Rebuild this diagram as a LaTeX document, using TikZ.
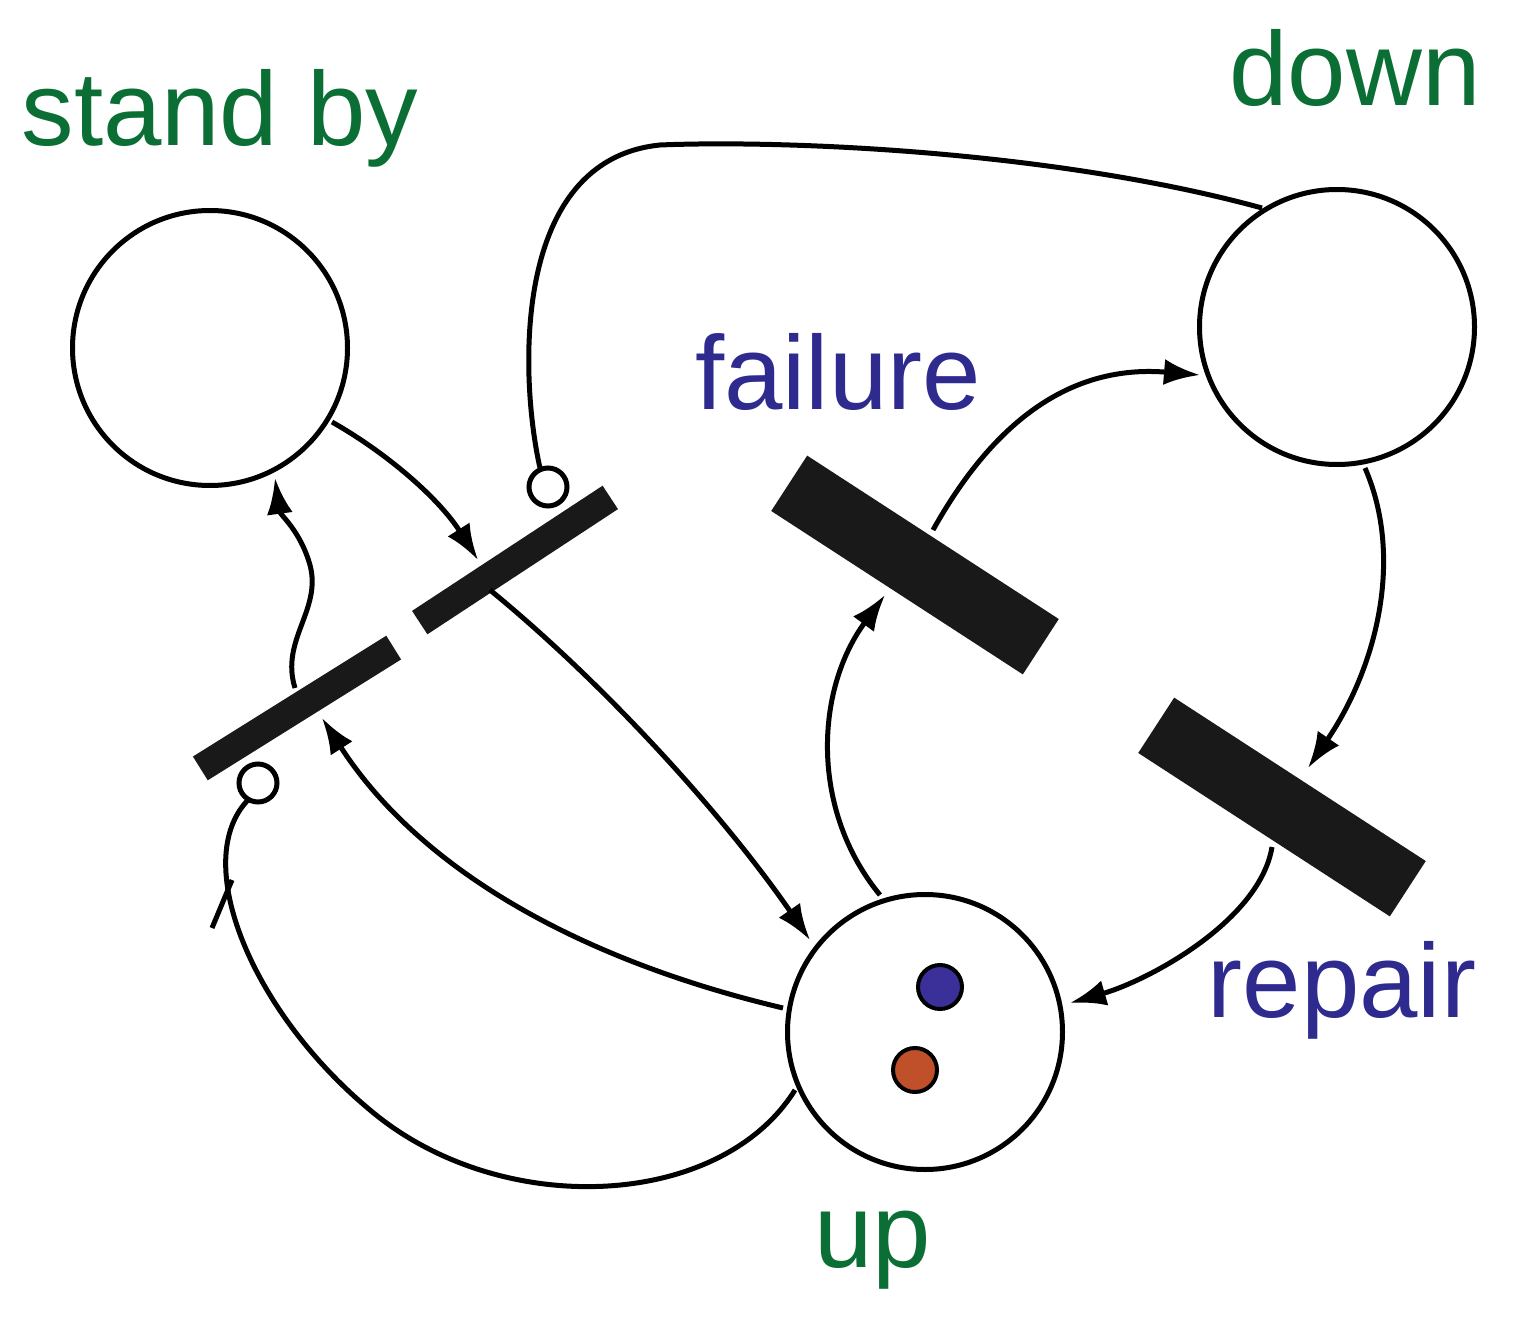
\documentclass[tikz,border=0pt]{standalone}
\usepackage{fontspec}
\setmainfont{Liberation Sans}
\usetikzlibrary{arrows.meta}
\definecolor{grn}{HTML}{0A6E35}
\definecolor{blu}{HTML}{2E2A8E}
\definecolor{tokb}{HTML}{3B2F9A}
\definecolor{toko}{HTML}{C0502A}
\begin{document}
\begin{tikzpicture}[x=1pt,y=-1pt,
  place/.style={circle,draw,line width=5pt,minimum size=275pt,inner sep=0pt},
  bar/.style={fill=black!90,draw=none,inner sep=0pt},
  inh/.style={circle,draw,line width=5pt,fill=white,minimum size=38pt,inner sep=0pt},
  arc/.style={line width=5pt,-{Latex[length=36pt,width=26pt]}},
  plain/.style={line width=5pt},
  lab/.style={font=\fontsize{105}{105}\selectfont,inner sep=0pt}]
\useasboundingbox (0,0) rectangle (1513,1332);
\node[place] (sb) at (210,348) {};
\node[place] (down) at (1337,327) {};
\node[place] (up) at (925,1032) {};
\node[circle,fill=tokb,draw,line width=4pt,minimum size=44pt,inner sep=0pt] (tb) at (940,987) {};
\node[circle,fill=toko,draw,line width=4pt,minimum size=44pt,inner sep=0pt] (to) at (915,1070) {};
\node[bar,minimum width=228pt,minimum height=28pt,rotate=33.3] (t1) at (515,560) {};
\node[bar,minimum width=228pt,minimum height=28pt,rotate=32] (t2) at (297,708) {};
\node[bar,minimum width=300pt,minimum height=66pt,rotate=-33] (fail) at (915,565) {};
\node[bar,minimum width=300pt,minimum height=66pt,rotate=-33] (rep) at (1282,807) {};
% arcs
\draw[arc] (332,422) .. controls (390,455) and (440,500) .. (478,560);
\draw[arc] (490,590) .. controls (600,680) and (720,810) .. (810,940);
\draw[plain] (1262,208) .. controls (1050,150) and (780,140) .. (660,145) .. controls (510,160) and (520,380) .. (540,468);
\draw[arc] (783,1008) .. controls (580,960) and (420,870) .. (322,718);
\draw[arc] (295,688) .. controls (280,640) and (322,610) .. (310,565) .. controls (300,530) and (280,515) .. (275,478);
\draw[plain] (795,1090) .. controls (720,1210) and (500,1220) .. (370,1110) .. controls (250,1010) and (190,860) .. (248,800);
\draw[plain] (212,928) -- (232,880);
\draw[arc] (880,895) .. controls (810,810) and (815,690) .. (885,595);
\draw[arc] (933,530) .. controls (1000,410) and (1080,365) .. (1200,375);
\draw[arc] (1365,468) .. controls (1405,560) and (1375,670) .. (1308,768);
\draw[arc] (1272,847) .. controls (1260,920) and (1150,980) .. (1070,1003);
\node[inh] (i1) at (548,487) {};
\node[inh] (i2) at (258,783) {};
% labels
\node[lab,text=grn] (l1) at (220,118) {stand by};
\node[lab,text=grn] (l2) at (1355,68) {down};
\node[lab,text=blu] (l3) at (838,372) {failure};
\node[lab,text=blu] (l4) at (1342,990) {repair};
\node[lab,text=grn] (l5) at (873,1250) {up};
\end{tikzpicture}
\end{document}
